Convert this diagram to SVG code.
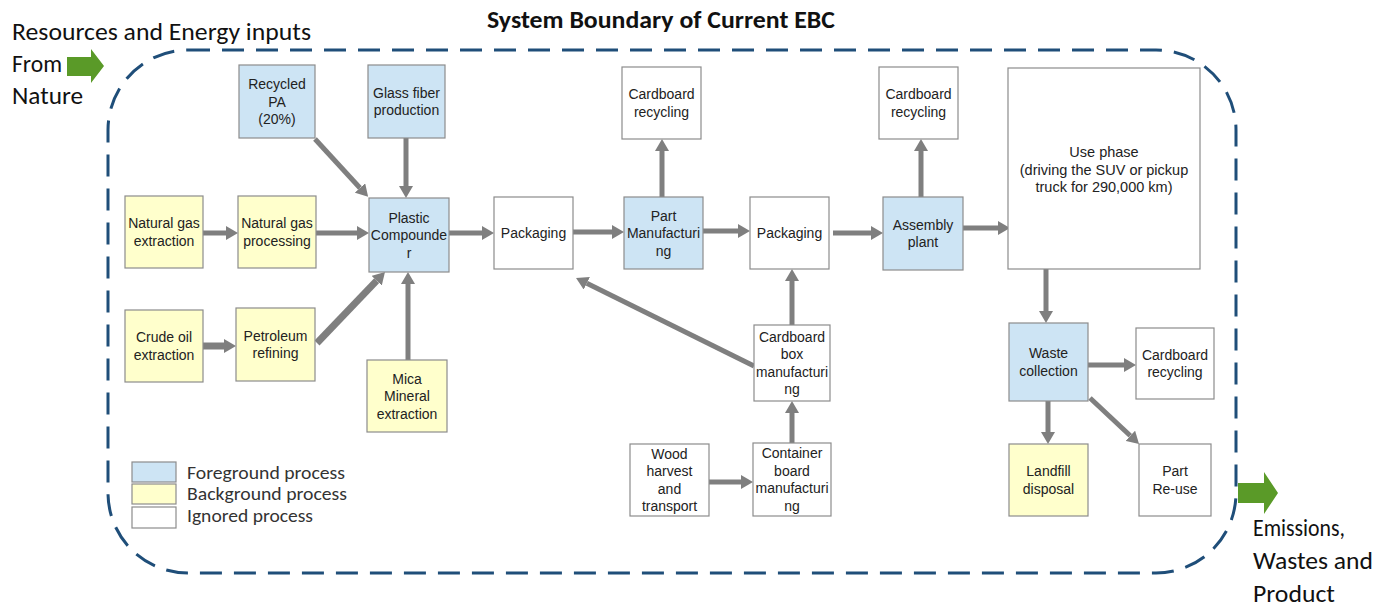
<svg xmlns="http://www.w3.org/2000/svg" width="1391" height="607" viewBox="0 0 1391 607">
<style>
.box{stroke:#8c8c8c;stroke-width:1.2}
.fg{fill:#cde4f4}
.bg{fill:#ffffcc}
.ig{fill:#ffffff}
.t{font-family:"Liberation Sans",Arial,sans-serif;font-size:14px;fill:#222;text-anchor:middle}
.u{font-family:"Liberation Sans",Arial,sans-serif;font-size:14.5px;fill:#222;text-anchor:middle}
.big{font-family:Calibri,"Carlito",Lato,"Liberation Sans",sans-serif;font-size:25.5px;fill:#111}
.out{font-family:Calibri,"Carlito",Lato,"Liberation Sans",sans-serif;font-size:24px;fill:#111}
.leg{font-family:Calibri,"Carlito",Lato,"Liberation Sans",sans-serif;font-size:17.5px;fill:#333}
.c{stroke:#7f7f7f;stroke-width:5;fill:none}
.c2{stroke:#7f7f7f;stroke-width:7;fill:none}
</style>
<defs>
<marker id="ah" markerUnits="userSpaceOnUse" viewBox="0 0 12 14" refX="0" refY="7" markerWidth="12" markerHeight="14" orient="auto">
<path d="M0,0 L12,7 L0,14 z" fill="#7f7f7f"/>
</marker>
</defs>
<rect width="1391" height="607" fill="#ffffff"/>
<g id="boundary">
<rect x="108" y="50" width="1128" height="523" rx="80" ry="80" fill="none" stroke="#1f4e79" stroke-width="3" stroke-dasharray="22,12"/>
<text x="487" y="28" textLength="348" lengthAdjust="spacingAndGlyphs" font-family="Calibri,'Carlito',Lato,'Liberation Sans',sans-serif" font-size="25" font-weight="bold" fill="#111">System Boundary of Current EBC</text>
</g>
<g id="inputs">
<text class="big" x="12" y="40" textLength="299" lengthAdjust="spacingAndGlyphs">Resources and Energy inputs</text>
<text class="big" x="12" y="72" textLength="50" lengthAdjust="spacingAndGlyphs">From</text>
<text class="big" x="12" y="104" textLength="71" lengthAdjust="spacingAndGlyphs">Nature</text>
<path d="M67,57 L91,57 L91,49 L104,66 L91,83 L91,76 L67,76 z" fill="#5a9a28"/>
</g>
<g id="outputs">
<path d="M1238,483 L1264,483 L1264,472 L1278,493 L1264,514 L1264,503 L1238,503 z" fill="#5a9a28"/>
<text class="out" x="1253" y="536" textLength="92" lengthAdjust="spacingAndGlyphs">Emissions,</text>
<text class="out" x="1253" y="569" textLength="120" lengthAdjust="spacingAndGlyphs">Wastes and</text>
<text class="out" x="1253" y="602" textLength="82" lengthAdjust="spacingAndGlyphs">Product</text>
</g>
<g id="legend">
<rect class="box fg" x="132" y="462" width="44" height="20"/>
<rect class="box bg" x="132" y="484" width="44" height="20"/>
<rect class="box ig" x="132" y="507" width="44" height="21"/>
<text class="leg" x="187" y="479" textLength="158" lengthAdjust="spacingAndGlyphs">Foreground process</text>
<text class="leg" x="187" y="500" textLength="160" lengthAdjust="spacingAndGlyphs">Background process</text>
<text class="leg" x="187" y="522" textLength="126" lengthAdjust="spacingAndGlyphs">Ignored process</text>
</g>
<g id="connectors">
<line class="c" x1="203" y1="233" x2="226" y2="233" marker-end="url(#ah)"/>
<line class="c" x1="316" y1="233" x2="357" y2="233" marker-end="url(#ah)"/>
<line class="c" x1="315" y1="139" x2="360" y2="188" marker-end="url(#ah)"/>
<line class="c" x1="406" y1="138" x2="406" y2="186" marker-end="url(#ah)"/>
<line class="c2" x1="203" y1="346" x2="224" y2="346" marker-end="url(#ah)"/>
<line class="c2" x1="317" y1="343" x2="376.7" y2="280.7" marker-end="url(#ah)"/>
<line class="c" x1="408" y1="360" x2="408" y2="284" marker-end="url(#ah)"/>
<line class="c" x1="449" y1="233" x2="482" y2="233" marker-end="url(#ah)"/>
<line class="c" x1="573" y1="232" x2="612" y2="232" marker-end="url(#ah)"/>
<line class="c" x1="662" y1="197" x2="662" y2="151" marker-end="url(#ah)"/>
<line class="c" x1="703" y1="231" x2="738" y2="231" marker-end="url(#ah)"/>
<line class="c" x1="833" y1="233" x2="871" y2="233" marker-end="url(#ah)"/>
<line class="c" x1="921" y1="197" x2="921" y2="151" marker-end="url(#ah)"/>
<line class="c" x1="963" y1="228" x2="998" y2="228" marker-end="url(#ah)"/>
<line class="c" x1="754" y1="366" x2="586.8" y2="283.3" marker-end="url(#ah)"/>
<line class="c" x1="792" y1="325" x2="792" y2="281" marker-end="url(#ah)"/>
<line class="c" x1="792" y1="443" x2="792" y2="413" marker-end="url(#ah)"/>
<line class="c" x1="709" y1="482" x2="741" y2="482" marker-end="url(#ah)"/>
<line class="c" x1="1046" y1="269" x2="1046" y2="311" marker-end="url(#ah)"/>
<line class="c" x1="1088" y1="365" x2="1124" y2="365" marker-end="url(#ah)"/>
<line class="c" x1="1048" y1="401" x2="1048" y2="432" marker-end="url(#ah)"/>
<line class="c" x1="1090" y1="398" x2="1130.3" y2="435.8" marker-end="url(#ah)"/>
</g>
<g id="recycled-pa"><rect class="box fg" x="239" y="65" width="76" height="73"/><text class="t" x="277" y="89">Recycled</text><text class="t" x="277" y="106.5">PA</text><text class="t" x="277" y="124">(20%)</text></g>
<g id="glass-fiber"><rect class="box fg" x="368" y="65" width="77" height="73"/><text class="t" x="406.5" y="97.75">Glass fiber</text><text class="t" x="406.5" y="115.25">production</text></g>
<g id="ng-extraction"><rect class="box bg" x="125" y="196" width="78" height="72"/><text class="t" x="164" y="228.25">Natural gas</text><text class="t" x="164" y="245.75">extraction</text></g>
<g id="ng-processing"><rect class="box bg" x="238" y="196" width="78" height="72"/><text class="t" x="277" y="228.25">Natural gas</text><text class="t" x="277" y="245.75">processing</text></g>
<g id="plastic-compounder"><rect class="box fg" x="369" y="198" width="80" height="74"/><text class="t" x="409" y="222.5">Plastic</text><text class="t" x="409" y="240">Compounde</text><text class="t" x="409" y="257.5">r</text></g>
<g id="crude-oil"><rect class="box bg" x="125" y="310" width="78" height="72"/><text class="t" x="164" y="342.25">Crude oil</text><text class="t" x="164" y="359.75">extraction</text></g>
<g id="petroleum"><rect class="box bg" x="236" y="308" width="79" height="73"/><text class="t" x="275.5" y="340.75">Petroleum</text><text class="t" x="275.5" y="358.25">refining</text></g>
<g id="mica"><rect class="box bg" x="367" y="360" width="80" height="72"/><text class="t" x="407" y="383.5">Mica</text><text class="t" x="407" y="401">Mineral</text><text class="t" x="407" y="418.5">extraction</text></g>
<g id="packaging-1"><rect class="box ig" x="494" y="197" width="79" height="72"/><text class="t" x="533.5" y="238">Packaging</text></g>
<g id="part-manufacturing"><rect class="box fg" x="624" y="197" width="79" height="72"/><text class="t" x="663.5" y="220.5">Part</text><text class="t" x="663.5" y="238">Manufacturi</text><text class="t" x="663.5" y="255.5">ng</text></g>
<g id="cardboard-recycling-1"><rect class="box ig" x="622" y="67" width="79" height="72"/><text class="t" x="661.5" y="99.25">Cardboard</text><text class="t" x="661.5" y="116.75">recycling</text></g>
<g id="packaging-2"><rect class="box ig" x="750" y="197" width="79" height="72"/><text class="t" x="789.5" y="238">Packaging</text></g>
<g id="cardboard-recycling-2"><rect class="box ig" x="879" y="67" width="79" height="72"/><text class="t" x="918.5" y="99.25">Cardboard</text><text class="t" x="918.5" y="116.75">recycling</text></g>
<g id="assembly-plant"><rect class="box fg" x="883" y="197" width="80" height="73"/><text class="t" x="923" y="229.75">Assembly</text><text class="t" x="923" y="247.25">plant</text></g>
<g id="use-phase"><rect class="box ig" x="1008" y="68" width="192" height="201"/><text class="u" x="1104" y="157">Use phase</text><text class="u" x="1104" y="174.5">(driving the SUV  or pickup</text><text class="u" x="1104" y="192">truck for 290,000 km)</text></g>
<g id="cardboard-box"><rect class="box ig" x="754" y="325" width="76" height="76"/><text class="t" x="792" y="341.75">Cardboard</text><text class="t" x="792" y="359.25">box</text><text class="t" x="792" y="376.75" textLength="72" lengthAdjust="spacingAndGlyphs">manufacturi</text><text class="t" x="792" y="394.25">ng</text></g>
<g id="wood-harvest"><rect class="box ig" x="630" y="444" width="79" height="72"/><text class="t" x="669.5" y="458.75">Wood</text><text class="t" x="669.5" y="476.25">harvest</text><text class="t" x="669.5" y="493.75">and</text><text class="t" x="669.5" y="511.25">transport</text></g>
<g id="container-board"><rect class="box ig" x="753" y="443" width="78" height="73"/><text class="t" x="792" y="458.25">Container</text><text class="t" x="792" y="475.75">board</text><text class="t" x="792" y="493.25" textLength="73" lengthAdjust="spacingAndGlyphs">manufacturi</text><text class="t" x="792" y="510.75">ng</text></g>
<g id="waste-collection"><rect class="box fg" x="1009" y="323" width="79" height="78"/><text class="t" x="1048.5" y="358.25">Waste</text><text class="t" x="1048.5" y="375.75">collection</text></g>
<g id="cardboard-recycling-3"><rect class="box ig" x="1136" y="328" width="78" height="71"/><text class="t" x="1175" y="359.75">Cardboard</text><text class="t" x="1175" y="377.25">recycling</text></g>
<g id="landfill"><rect class="box bg" x="1009" y="444" width="79" height="72"/><text class="t" x="1048.5" y="476.25">Landfill</text><text class="t" x="1048.5" y="493.75">disposal</text></g>
<g id="part-reuse"><rect class="box ig" x="1139" y="444" width="72" height="72"/><text class="t" x="1175" y="476.25">Part</text><text class="t" x="1175" y="493.75">Re-use</text></g>
</svg>
